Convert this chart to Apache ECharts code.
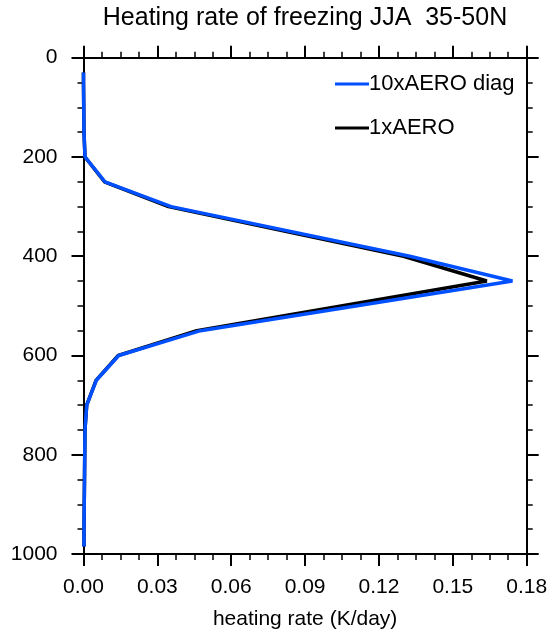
<!DOCTYPE html>
<html>
<head>
<meta charset="utf-8">
<script src="https://cdn.jsdelivr.net/npm/echarts@6/dist/echarts.min.js"></script>
<style>
  html, body { margin: 0; padding: 0; background: #fff; }
  #chart { width: 551px; height: 635px; }
</style>
</head>
<body>
<div id="chart"></div>
<script>
// Pressure levels (hPa) of the vertical profile
const levels = [30, 50, 100, 150, 200, 250, 300, 400, 450, 550, 600, 650, 700, 750, 800, 850, 900, 950, 985];
// Heating rate (K/day) at each level
const rate1x = [0.0000, 0.0000, 0.0001, 0.0002, 0.0006, 0.0085, 0.0345, 0.1300, 0.1638, 0.0460, 0.0141, 0.0051, 0.0013, 0.0006, 0.0005, 0.0004, 0.0003, 0.0002, 0.0002];
const rate10xDiag = [0.0000, 0.0000, 0.0001, 0.0002, 0.0006, 0.0087, 0.0356, 0.1325, 0.1742, 0.0475, 0.0143, 0.0052, 0.0013, 0.0006, 0.0005, 0.0004, 0.0003, 0.0002, 0.0002];
const seriesNames = ['10xAERO diag', '1xAERO'];
const xTicks = { min: 0, max: 0.18, step: 0.03 };
const yTicks = { min: 0, max: 1000, step: 200 };

const FONT = '"Liberation Sans", Arial, Helvetica, sans-serif';

function pairs(xs) {
  return levels.map((p, i) => [xs[i], p]);
}

const tickCommon = {
  axisLine: { show: true, onZero: false, lineStyle: { color: '#000', width: 2 } },
  axisTick: { show: true, inside: false, length: 12, lineStyle: { color: '#000', width: 2 } },
  minorTick: { show: true, splitNumber: 4, length: 6, lineStyle: { color: '#000', width: 1.5 } },
  splitLine: { show: false },
  minorSplitLine: { show: false }
};

function xAxisDef(pos, labels) {
  return Object.assign({
    type: 'value',
    position: pos,
    min: xTicks.min,
    max: xTicks.max,
    interval: xTicks.step,
    axisLabel: {
      show: labels,
      margin: 23,
      color: '#000',
      fontSize: 21,
      fontFamily: FONT,
      showMinLabel: true,
      showMaxLabel: true,
      formatter: v => v.toFixed(2)
    }
  }, tickCommon);
}

function yAxisDef(pos, labels) {
  return Object.assign({
    type: 'value',
    position: pos,
    inverse: true,
    min: yTicks.min,
    max: yTicks.max,
    interval: yTicks.step,
    axisLabel: {
      show: labels,
      margin: 26,
      color: '#000',
      fontSize: 21,
      fontFamily: FONT,
      showMinLabel: true,
      showMaxLabel: true,
      formatter: v => String(v)
    }
  }, tickCommon);
}

const xBottom = xAxisDef('bottom', true);
xBottom.name = 'heating rate (K/day)';
xBottom.nameLocation = 'middle';
xBottom.nameGap = 55;
xBottom.nameTextStyle = { color: '#000', fontSize: 21, fontFamily: FONT };

const chart = echarts.init(document.getElementById('chart'), null, { renderer: 'canvas' });

chart.setOption({
  animation: false,
  backgroundColor: '#fff',
  title: {
    text: 'Heating rate of freezing JJA  35-50N',
    left: 305,
    textAlign: 'center',
    top: 6,
    padding: 0,
    textStyle: { color: '#000', fontSize: 25, fontWeight: 'normal', fontFamily: FONT }
  },
  legend: {
    orient: 'vertical',
    left: 335,
    top: 73,
    padding: 0,
    itemGap: 22,
    itemWidth: 34,
    itemHeight: 3,
    icon: 'rect',
    data: seriesNames,
    textStyle: { color: '#000', fontSize: 22, fontFamily: FONT, padding: [0, 0, 0, -5] }
  },
  grid: { left: 83.5, right: 24.3, top: 57.7, bottom: 80, containLabel: false },
  xAxis: [xBottom, xAxisDef('top', false)],
  yAxis: [yAxisDef('left', true), yAxisDef('right', false)],
  series: [
    {
      name: seriesNames[1],
      type: 'line',
      data: pairs(rate1x),
      showSymbol: false,
      symbol: 'none',
      color: '#000',
      lineStyle: { color: '#000', width: 3.5 },
      z: 2
    },
    {
      name: seriesNames[0],
      type: 'line',
      data: pairs(rate10xDiag),
      showSymbol: false,
      symbol: 'none',
      color: '#0050ff',
      lineStyle: { color: '#0050ff', width: 3.5 },
      z: 3
    }
  ]
});
</script>
</body>
</html>
